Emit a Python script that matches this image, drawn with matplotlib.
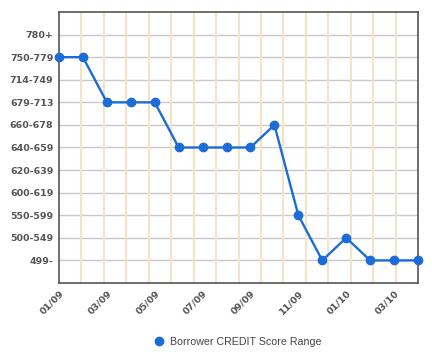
import matplotlib
matplotlib.use("Agg")
import matplotlib.pyplot as plt
import numpy as np

months = ["01/09", "02/09", "03/09", "04/09", "05/09", "06/09", "07/09", "08/09",
          "09/09", "10/09", "11/09", "12/09", "01/10", "02/10", "03/10", "04/10"]
categories = ["499-", "500-549", "550-599", "600-619", "620-639", "640-659",
              "660-678", "679-713", "714-749", "750-779", "780+"]
scores = ["750-779", "750-779", "679-713", "679-713", "679-713", "640-659",
          "640-659", "640-659", "640-659", "660-678", "550-599", "499-",
          "500-549", "499-", "499-", "499-"]
tick_labels = ["01/09", "03/09", "05/09", "07/09", "09/09", "11/09", "01/10", "03/10"]

blue = "#1c6cd8"
fig = plt.figure(figsize=(4.32, 3.62), dpi=100)
ax = fig.add_axes([59/432, 1-283/362, (418-59)/432, (283-12)/362])

x = np.arange(len(months))
y = [categories.index(s) for s in scores]

# grid
for i in range(len(categories)):
    ax.axhline(i, color="#c8c8c8", lw=1.0, zorder=1)
n = len(months) - 1
for k in range(1, 16):
    ax.axvline(k * n / 16, color="#f2e4c4", lw=1.5, zorder=1)

line, = ax.plot(x, y, color=blue, lw=1.7, marker="o", markersize=6,
                zorder=3, clip_on=False, label="Borrower CREDIT Score Range")

ax.set_xlim(0, n)
ax.set_ylim(-1, len(categories))
ax.set_yticks(range(len(categories)))
ax.set_yticklabels(categories, fontsize=6.8, fontweight="bold", color="#555555")
ax.set_xticks([months.index(t) for t in tick_labels])
ax.set_xticklabels(tick_labels, fontsize=6.8, fontweight="bold", color="#555555",
                   rotation=45, ha="right", va="top", rotation_mode="anchor")
ax.tick_params(length=0, pad=4)
for s in ax.spines.values():
    s.set_color("#555555")
    s.set_linewidth(1.2)

fig.legend(handles=[line.__class__([], [], color=blue, marker="o", lw=0, markersize=6)],
           labels=["Borrower CREDIT Score Range"], loc="center",
           bbox_to_anchor=(238/432, 1-342/362), frameon=False,
           prop={"family": "Liberation Sans", "size": 7.7},
           labelcolor="#444444", handlelength=0.8, handletextpad=0.6)

fig.savefig("out.png", dpi=100)
